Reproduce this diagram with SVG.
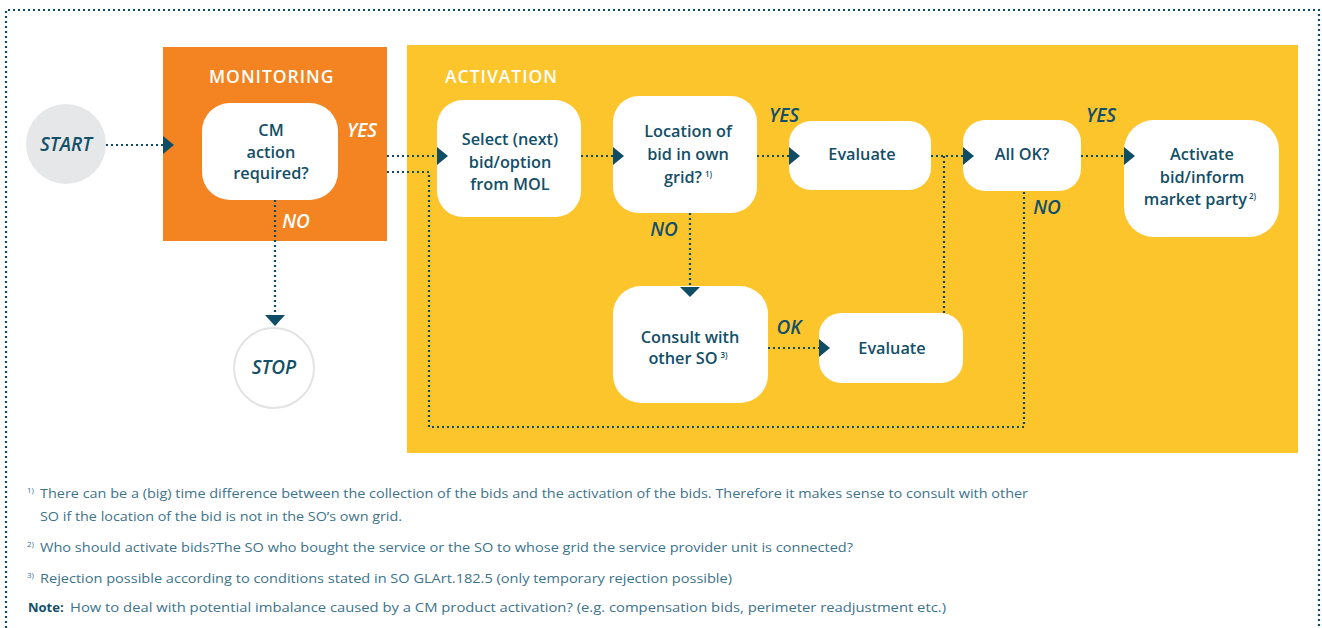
<svg xmlns="http://www.w3.org/2000/svg" width="1322" height="628" viewBox="0 0 1322 628">
<style>
.node{fill:#ffffff}
.t{font-family:"Open Sans","Liberation Sans",sans-serif;font-weight:600;font-size:16.3px;fill:#134f68;text-anchor:middle}
.lbl{font-family:"Open Sans","Liberation Sans",sans-serif;font-weight:600;font-style:italic;font-size:19px;fill:#134f68;text-anchor:middle}
.title{font-family:"Open Sans","Liberation Sans",sans-serif;font-weight:600;font-size:17.5px;fill:#ffffff;letter-spacing:1px}
.dot{fill:none;stroke:#0f4d66;stroke-width:2.2;stroke-dasharray:2 3}
.ah{fill:#0f4d66}
.fn{font-family:"Open Sans","Liberation Sans",sans-serif;font-size:13px;fill:#3d738b}
.sup{font-size:8px}
</style>
<path class="dot" d="M6,628 V10 H1319 V628" stroke-dasharray="2 2.6"/>
<g id="monitoring">
<rect x="163" y="47" width="224" height="194" fill="#f38421"/>
<text class="title" x="209" y="83">MONITORING</text>
</g>
<g id="activation">
<rect x="407" y="45" width="891" height="408" fill="#fdc52c"/>
<text class="title" x="445" y="83">ACTIVATION</text>
</g>
<g id="start">
<circle cx="66" cy="144" r="40" fill="#e6e7e8"/>
<text class="lbl" x="66" y="151">START</text>
</g>
<g id="stop">
<circle cx="274" cy="368" r="40" fill="#ffffff" stroke="#e3e3e3" stroke-width="2"/>
<text class="lbl" x="274" y="374">STOP</text>
</g>
<g id="cm">
<rect class="node" x="202" y="103" width="136" height="97" rx="28"/>
<text class="t" x="271" y="136">CM</text>
<text class="t" x="271" y="158">action</text>
<text class="t" x="271" y="179">required?</text>
</g>
<g id="select">
<rect class="node" x="437" y="100" width="144" height="117" rx="26"/>
<text class="t" x="510" y="145">Select (next)</text>
<text class="t" x="510" y="168">bid/option</text>
<text class="t" x="510" y="190">from MOL</text>
</g>
<g id="location">
<rect class="node" x="613" y="96" width="144" height="117" rx="26"/>
<text class="t" x="688" y="137">Location of</text>
<text class="t" x="688" y="160">bid in own</text>
<text class="t" x="688" y="183">grid?<tspan class="sup" dx="3" dy="-6">1)</tspan></text>
</g>
<g id="evaluate1">
<rect class="node" x="789" y="121" width="142" height="69" rx="22"/>
<text class="t" x="862" y="160">Evaluate</text>
</g>
<g id="allok">
<rect class="node" x="963" y="120" width="118" height="71" rx="22"/>
<text class="t" x="1022" y="160">All OK?</text>
</g>
<g id="activate">
<rect class="node" x="1124" y="120" width="155" height="117" rx="30"/>
<text class="t" x="1202" y="160">Activate</text>
<text class="t" x="1202" y="183">bid/inform</text>
<text class="t" x="1200" y="205">market party<tspan class="sup" dx="2" dy="-6">2)</tspan></text>
</g>
<g id="consult">
<rect class="node" x="613" y="286" width="155" height="117" rx="28"/>
<text class="t" x="690" y="343">Consult with</text>
<text class="t" x="688" y="364">other SO<tspan class="sup" dx="3" dy="-6">3)</tspan></text>
</g>
<g id="evaluate2">
<rect class="node" x="819" y="313" width="144" height="70" rx="22"/>
<text class="t" x="892" y="354">Evaluate</text>
</g>
<g id="connectors">
<path class="dot" d="M106,145 H163"/>
<polygon class="ah" points="163,136 174,145 163,154"/>
<path class="dot" d="M387,156 H437"/>
<polygon class="ah" points="437,147 448,156 437,165"/>
<path class="dot" d="M387,172 H429 V427 H1024 V191"/>
<path class="dot" d="M581,156 H613"/>
<polygon class="ah" points="613,147 624,156 613,165"/>
<path class="dot" d="M757,156 H789"/>
<polygon class="ah" points="789,147 800,156 789,165"/>
<path class="dot" d="M690,213 V287"/>
<polygon class="ah" points="680,287 700,287 690,297"/>
<path class="dot" d="M931,156 H963"/>
<path class="dot" d="M944,313 V156"/>
<polygon class="ah" points="963,147 974,156 963,165"/>
<path class="dot" d="M768,348 H819"/>
<polygon class="ah" points="819,339 830,348 819,357"/>
<path class="dot" d="M1081,156 H1124"/>
<polygon class="ah" points="1124,147 1135,156 1124,165"/>
<path class="dot" d="M275,200 V315"/>
<polygon class="ah" points="265,315 285,315 275,326"/>
</g>
<g id="labels">
<text class="lbl" x="362" y="137" style="fill:#ffffff">YES</text>
<text class="lbl" x="296" y="228" style="fill:#ffffff">NO</text>
<text class="lbl" x="784" y="122">YES</text>
<text class="lbl" x="1101" y="122">YES</text>
<text class="lbl" x="664" y="236">NO</text>
<text class="lbl" x="1047" y="214">NO</text>
<text class="lbl" x="789" y="334">OK</text>
</g>
<g id="footnotes">
<text class="fn" x="27" y="498"><tspan class="sup" dy="-5">1)</tspan><tspan x="40" dy="5" textLength="988" lengthAdjust="spacingAndGlyphs">There can be a (big) time difference between the collection of the bids and the activation of the bids. Therefore it makes sense to consult with other</tspan></text>
<text class="fn" x="40" y="521" textLength="362" lengthAdjust="spacingAndGlyphs">SO if the location of the bid is not in the SO’s own grid.</text>
<text class="fn" x="27" y="552"><tspan class="sup" dy="-5">2)</tspan><tspan x="40" dy="5" textLength="813" lengthAdjust="spacingAndGlyphs">Who should activate bids?The SO who bought the service or the SO to whose grid the service provider unit is connected?</tspan></text>
<text class="fn" x="27" y="583"><tspan class="sup" dy="-5">3)</tspan><tspan x="40" dy="5" textLength="692" lengthAdjust="spacingAndGlyphs">Rejection possible according to conditions stated in SO GLArt.182.5 (only temporary rejection possible)</tspan></text>
<text class="fn" x="28" y="612"><tspan font-weight="700" fill="#134f68">Note:</tspan><tspan x="70" textLength="876" lengthAdjust="spacingAndGlyphs">How to deal with potential imbalance caused by a CM product activation? (e.g. compensation bids, perimeter readjustment etc.)</tspan></text>
</g>
</svg>
